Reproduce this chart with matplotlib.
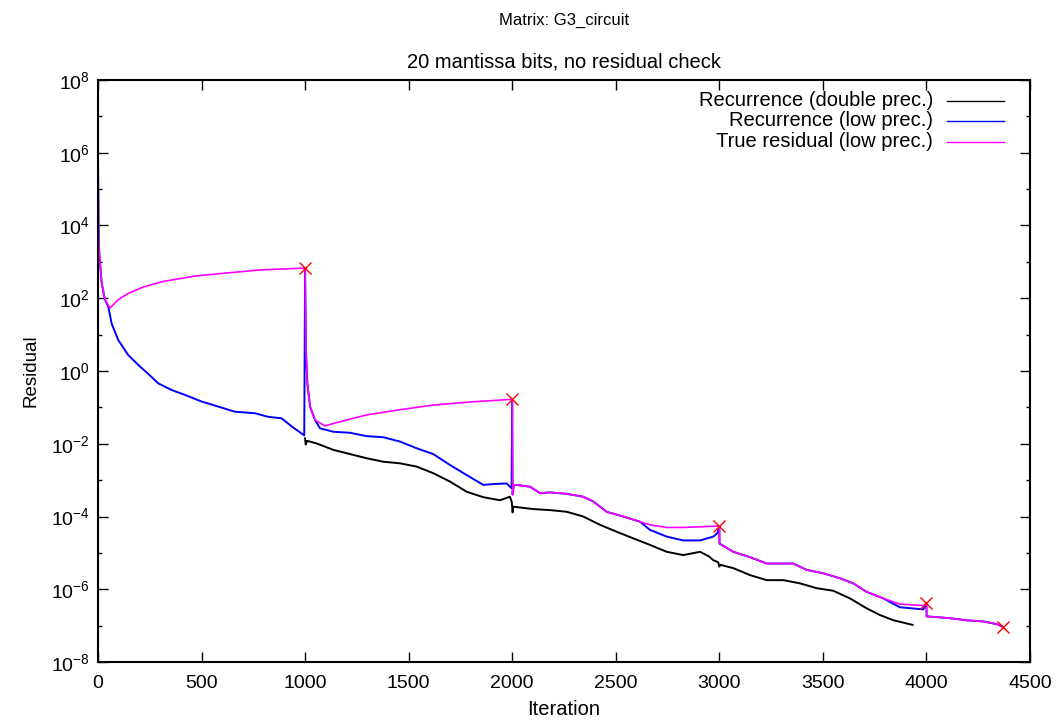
import math
import matplotlib
matplotlib.use("Agg")
import matplotlib.pyplot as plt
from matplotlib.ticker import FixedLocator, FuncFormatter

plt.rcParams['font.family'] = ['Liberation Sans', 'DejaVu Sans']
plt.rcParams['mathtext.fontset'] = 'custom'
plt.rcParams['mathtext.rm'] = 'Liberation Sans'
plt.rcParams['mathtext.it'] = 'Liberation Sans'

# Recurrence residual in double precision (starts at first restart)
it_double = [1000, 1003, 1010, 1056, 1136, 1217, 1297, 1378, 1458, 1539, 1619, 1700,
             1780, 1860, 1941, 1989, 1998, 2002, 2005, 2102, 2182, 2263, 2343, 2424,
             2505, 2585, 2665, 2746, 2826, 2907, 2950, 2971, 2995, 3000, 3005, 3068,
             3148, 3229, 3309, 3390, 3470, 3550, 3631, 3711, 3776, 3840, 3933]
res_double = [1.41e-2, 9.5e-3, 1.2e-2, 1.02e-2, 6.8e-3, 5.2e-3, 4.0e-3, 3.2e-3, 2.9e-3,
              2.35e-3, 1.55e-3, 9.1e-4, 4.8e-4, 3.4e-4, 2.8e-4, 3.5e-4, 2.5e-4, 1.3e-4,
              1.86e-4, 1.6e-4, 1.5e-4, 1.35e-4, 1.0e-4, 5.9e-5, 3.8e-5, 2.5e-5, 1.66e-5,
              1.07e-5, 8.7e-6, 1.07e-5, 8.0e-6, 6.3e-6, 5.5e-6, 4.2e-6, 4.7e-6, 3.8e-6,
              2.45e-6, 1.78e-6, 1.78e-6, 1.45e-6, 1.07e-6, 9.1e-7, 5.6e-7, 3.0e-7,
              1.95e-7, 1.41e-7, 1.05e-7]

# Recurrence residual in low precision
it_low = [0, 3, 6, 10, 18, 34, 50, 66, 98, 146, 195, 243, 291, 356, 420, 500, 581, 661,
          758, 822, 887, 935, 996, 1000, 1004, 1011, 1024, 1048, 1072, 1136, 1217, 1297,
          1378, 1458, 1539, 1619, 1700, 1780, 1860, 1909, 1973, 1997, 2000, 2002, 2008,
          2021, 2050, 2086, 2134, 2182, 2263, 2343, 2391, 2456, 2536, 2617, 2665, 2746,
          2826, 2907, 2971, 2991, 3000, 3001, 3068, 3148, 3229, 3309, 3357, 3422, 3502,
          3583, 3647, 3711, 3792, 3872, 3985, 4000, 4001, 4114, 4194, 4275, 4339, 4368]
res_low = [1e6, 1e4, 2e3, 9e2, 2.6e2, 9e1, 59, 20, 7.1, 2.75, 1.46, 0.83, 0.457, 0.30,
           0.22, 0.145, 0.105, 0.076, 0.069, 0.055, 0.050, 0.030, 0.017, 676, 3.8, 0.457,
           0.105, 0.045, 0.0266, 0.0214, 0.020, 0.0162, 0.0151, 0.0115, 0.0075, 0.0052,
           0.0026, 1.38e-3, 7.4e-4, 7.8e-4, 8.1e-4, 6.0e-4, 0.17, 4e-4, 7.4e-4, 7.4e-4,
           7.0e-4, 6.6e-4, 4.4e-4, 4.6e-4, 4.2e-4, 3.5e-4, 2.6e-4, 1.35e-4, 1.0e-4,
           7.2e-5, 4.3e-5, 2.8e-5, 2.2e-5, 2.2e-5, 2.8e-5, 3.5e-5, 5.5e-5, 1.8e-5,
           1.07e-5, 7.6e-6, 5.1e-6, 5.1e-6, 5.1e-6, 3.4e-6, 2.75e-6, 2.0e-6, 1.45e-6,
           8.5e-7, 5.6e-7, 3.2e-7, 2.8e-7, 4.1e-7, 1.8e-7, 1.6e-7, 1.4e-7, 1.3e-7,
           1.1e-7, 9.3e-8]

# True residual computed in low precision
it_true = [0, 3, 6, 10, 18, 34, 58, 100, 146, 220, 308, 468, 629, 790, 1000, 1004, 1011,
           1024, 1048, 1096, 1200, 1297, 1450, 1619, 1800, 1994, 2000, 2002, 2008, 2021,
           2050, 2086, 2134, 2182, 2263, 2343, 2391, 2456, 2536, 2617, 2665, 2746, 2826,
           2907, 3000, 3001, 3068, 3148, 3229, 3309, 3357, 3422, 3502, 3583, 3647, 3711,
           3792, 3872, 3985, 4000, 4001, 4114, 4194, 4275, 4339, 4368]
res_true = [1e6, 1e4, 2e3, 9e2, 2.6e2, 9e1, 54, 93, 136, 204, 285, 407, 500, 603, 676,
            3.8, 0.457, 0.105, 0.045, 0.031, 0.045, 0.062, 0.085, 0.116, 0.141, 0.166,
            0.17, 4e-4, 7.4e-4, 7.4e-4, 7.0e-4, 6.6e-4, 4.4e-4, 4.6e-4, 4.2e-4, 3.5e-4,
            2.6e-4, 1.35e-4, 1.0e-4, 7.2e-5, 5.9e-5, 5.0e-5, 5.0e-5, 5.2e-5, 5.5e-5,
            1.8e-5, 1.07e-5, 7.6e-6, 5.1e-6, 5.1e-6, 5.1e-6, 3.4e-6, 2.75e-6, 2.0e-6,
            1.45e-6, 8.5e-7, 5.6e-7, 3.9e-7, 3.55e-7, 4.1e-7, 1.8e-7, 1.6e-7, 1.4e-7,
            1.3e-7, 1.1e-7, 9.3e-8]

# Restart points (true residual recomputed)
it_restart = [1000, 2000, 3000, 4000, 4368]
res_restart = [676, 0.17, 5.5e-5, 4.1e-7, 9.3e-8]

labels = ["Recurrence (double prec.)", "Recurrence (low prec.)", "True residual (low prec.)"]
colours = ["#000000", "#0000ff", "#ff00ff"]

fig = plt.figure(figsize=(10.58, 7.22), dpi=100)
ax = fig.add_axes([0.0926, 0.0831, 0.8809, 0.8061])

ax.plot(it_double, res_double, color=colours[0], lw=1.4)
ax.plot(it_low, res_low, color=colours[1], lw=1.4)
ax.plot(it_true, res_true, color=colours[2], lw=1.2)
ax.plot(it_restart, res_restart, 'x', color='red', ms=8, mew=1.0)

ax.set_yscale('log')
ax.set_xlim(0, 4500)
ax.set_ylim(1e-8, 1e8)
ax.set_xticks(range(0, 4501, 500))
ax.yaxis.set_major_locator(FixedLocator([10.0 ** k for k in range(-8, 9, 2)]))
ax.yaxis.set_minor_locator(FixedLocator([10.0 ** k for k in range(-7, 8, 2)]))
ax.yaxis.set_major_formatter(FuncFormatter(
    lambda v, p: r'$\mathregular{10^{%d}}$' % round(math.log10(v))))
ax.yaxis.set_minor_formatter(FuncFormatter(lambda v, p: ''))

ax.tick_params(which='both', direction='in', top=True, right=True, labelsize=14)
ax.tick_params(which='major', length=7, width=1)
ax.tick_params(which='minor', length=3, width=1)
ax.tick_params(axis='y', pad=6)
ax.tick_params(axis='x', pad=9)
for s in ax.spines.values():
    s.set_linewidth(1.5)

ax.set_xlabel("Iteration", fontsize=14.5, labelpad=6)
ax.set_ylabel("Residual", fontsize=13.5, labelpad=8)
ax.set_title("20 mantissa bits, no residual check", fontsize=14.5, pad=9)
fig.text(0.533, 0.972, "Matrix: G3_circuit", fontsize=12, ha='center', va='center')

# gnuplot-style key: right-aligned text with the line sample after it
key_y = [0.964, 0.9296, 0.8935]
for lab, col, y in zip(labels, colours, key_y):
    ax.text(0.896, y, lab, transform=ax.transAxes, ha='right', va='center', fontsize=14.5)
    ax.plot([0.911, 0.972], [y, y], transform=ax.transAxes, color=col, lw=1)

plt.savefig("out.png", dpi=100)
plt.close()
